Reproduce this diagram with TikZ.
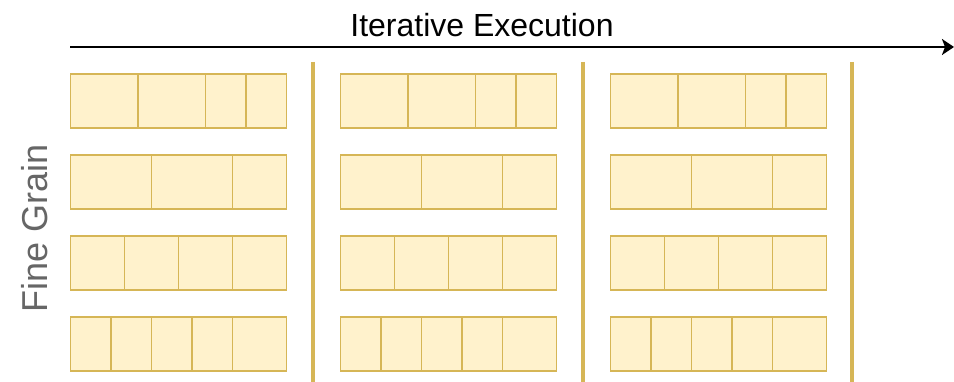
\documentclass[tikz,border=0pt]{standalone}
\usepackage{fontspec}
\setmainfont{Liberation Sans}
\usepackage{tikz}
\usetikzlibrary{arrows.meta, positioning}
\definecolor{grainfill}{HTML}{FFF2CC}
\definecolor{grainline}{HTML}{D6B656}
\definecolor{graintext}{HTML}{666666}

\begin{document}
\begin{tikzpicture}[
      x=1pt, y=-1pt,
      cell/.style={rectangle, draw=grainline, fill=grainfill, line width=1.3pt, inner sep=0pt, outer sep=0pt, minimum height=54pt},
      sepbar/.style={grainline, line width=4pt},
      arr/.style={-{Stealth[length=12pt, width=16pt, inset=3pt]}, line width=2.6pt, black},
      title/.style={font=\fontsize{32}{36}\selectfont, anchor=base},
      side/.style={font=\fontsize{36}{40}\selectfont, text=graintext, rotate=90, anchor=base},
    ]
    \useasboundingbox (0,0) rectangle (954,382);

    % title and time arrow
    \node[title] (iter) at (482,37) {Iterative Execution};
    \coordinate (tstart) at (70,47);
    \coordinate (tend) at (954,47);
    \draw[arr] (tstart) -- (tend);

    \node[side] (fine) at (47,228) {Fine Grain};

    % blocks of cells, one per iteration
    \foreach \g/\gx in {1/70.5, 2/340.5, 3/610.5} {
      \foreach \r/\ry/\ws in {1/74/{67.5,67.5,40.5,40.5}, 2/155/{81,81,54}, 3/236/{54,54,54,54}, 4/317/{40.5,40.5,40.5,40.5,54}} {
        \coordinate (g\g r\r) at (\gx,\ry);
        \foreach \w [count=\k, remember=\k as \prev (initially 0)] in \ws {
          \ifnum\k=1
            \node[cell, minimum width=\w pt, anchor=north west] (g\g r\r c\k) at (g\g r\r) {};
          \else
            \node[cell, minimum width=\w pt, right=0pt of g\g r\r c\prev] (g\g r\r c\k) {};
          \fi
        }
      }
    }

    % separators between iterations
    \foreach \s/\sx in {1/313, 2/583, 3/852} {
      \coordinate (s\s top) at (\sx,62);
      \coordinate (s\s bot) at (\sx,382);
      \draw[sepbar] (s\s top) -- (s\s bot);
    }
  \end{tikzpicture}
\end{document}
